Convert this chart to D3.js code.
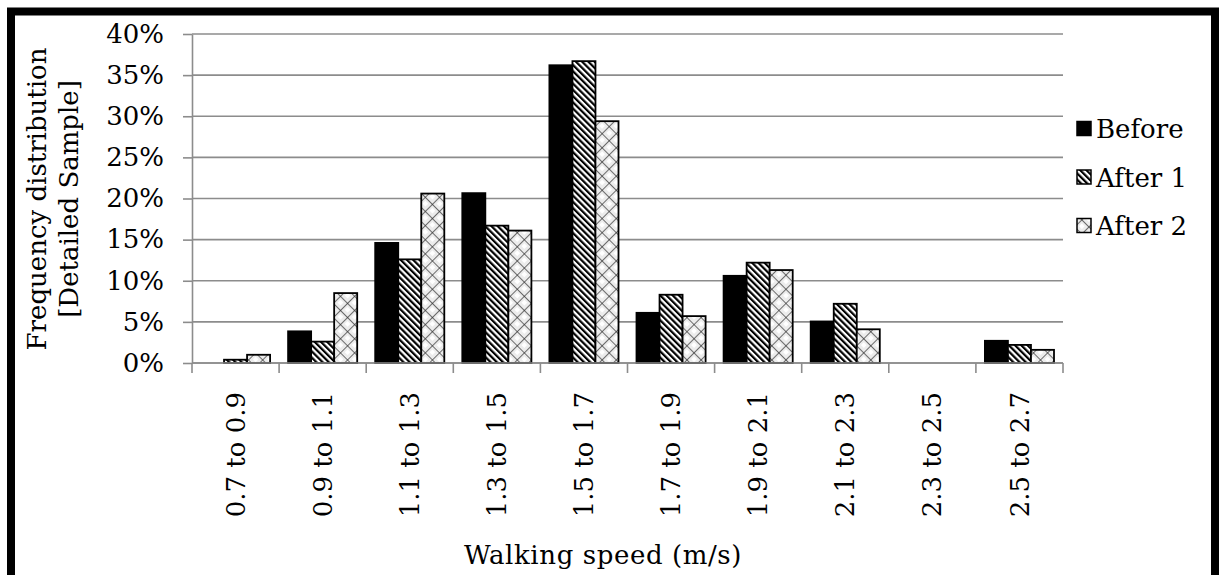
<!DOCTYPE html>
<html>
<head>
<meta charset="utf-8">
<script src="https://cdn.jsdelivr.net/npm/d3@7"></script>
<style>
  body { margin: 0; background: #fff; }
  text { font-family: "DejaVu Serif", serif; fill: #000; }
</style>
</head>
<body>
<div id="vis"></div>
<script>
// data (percent)
var categories = ["0.7 to 0.9", "0.9 to 1.1", "1.1 to 1.3", "1.3 to 1.5", "1.5 to 1.7",
                  "1.7 to 1.9", "1.9 to 2.1", "2.1 to 2.3", "2.3 to 2.5", "2.5 to 2.7"];
var seriesNames = ["Before", "After 1", "After 2"];
var before = [0, 3.85, 14.6, 20.65, 36.2, 6.1, 10.6, 5.05, 0, 2.7];
var after1 = [0.4, 2.6, 12.6, 16.7, 36.7, 8.3, 12.2, 7.2, 0, 2.2];
var after2 = [1.0, 8.5, 20.6, 16.1, 29.4, 5.7, 11.3, 4.1, 0, 1.6];
var yTicks = [0, 5, 10, 15, 20, 25, 30, 35, 40];

var seriesValues = [before, after1, after2];
var fills = ["#000", "url(#hatch)", "url(#cross)"];

var width = 1222, height = 575;
var margin = {top: 34, right: 159, bottom: 212, left: 192};
var w = width - margin.left - margin.right;
var h = height - margin.top - margin.bottom;

var svg = d3.select("#vis").append("svg")
    .attr("width", width)
    .attr("height", height);

// patterns
var defs = svg.append("defs");
var hatch = defs.append("pattern")
    .attr("id", "hatch")
    .attr("patternUnits", "userSpaceOnUse")
    .attr("width", 4.4).attr("height", 10)
    .attr("patternTransform", "rotate(-45)");
hatch.append("rect").attr("width", 4.4).attr("height", 10).attr("fill", "#fff");
hatch.append("rect").attr("width", 2.2).attr("height", 10).attr("fill", "#000");

var cross = defs.append("pattern")
    .attr("id", "cross")
    .attr("patternUnits", "userSpaceOnUse")
    .attr("width", 10).attr("height", 10)
    .attr("patternTransform", "rotate(45)");
cross.append("rect").attr("width", 10).attr("height", 10).attr("fill", "#ececec");
cross.append("rect").attr("x", 3).attr("y", 3).attr("width", 4).attr("height", 4).attr("fill", "#fff");
cross.append("line").attr("x1", 0).attr("y1", 0).attr("x2", 10).attr("y2", 0)
    .attr("stroke", "#333").attr("stroke-width", 1.4);
cross.append("line").attr("x1", 0).attr("y1", 0).attr("x2", 0).attr("y2", 10)
    .attr("stroke", "#333").attr("stroke-width", 1.4);

// outer frame
svg.append("rect")
    .attr("x", 11).attr("y", 11.5)
    .attr("width", 1204).attr("height", 580)
    .attr("fill", "none")
    .attr("stroke", "#000")
    .attr("stroke-width", 8);

var g = svg.append("g")
    .attr("transform", "translate(" + margin.left + "," + margin.top + ")");

var x = d3.scaleBand().domain(categories).range([0, w]);
var xs = d3.scaleBand().domain(seriesNames).range([9, x.bandwidth() - 9]);
var y = d3.scaleLinear().domain([0, 40]).range([h, 0]);

// gridlines
g.append("g").selectAll("line")
  .data(yTicks)
  .enter().append("line")
    .attr("x1", 0).attr("x2", w)
    .attr("y1", function(d) { return y(d); })
    .attr("y2", function(d) { return y(d); })
    .attr("stroke", "#8c8c8c")
    .attr("stroke-width", 1.6);

// y axis
var yAxis = g.append("g")
    .call(d3.axisLeft(y).tickValues(yTicks).tickSize(9).tickSizeOuter(0).tickPadding(19)
      .tickFormat(function(d) { return d + "%"; }));
yAxis.select(".domain").attr("stroke", "#8c8c8c").attr("stroke-width", 1.6);
yAxis.selectAll(".tick line").attr("stroke", "#8c8c8c").attr("stroke-width", 1.6);
yAxis.selectAll(".tick text").style("font-family", "DejaVu Serif").style("font-size", "26px");

// bars
seriesValues.forEach(function(vals, i) {
  g.append("g").selectAll("rect")
    .data(vals)
    .enter().append("rect")
      .attr("x", function(d, j) { return x(categories[j]) + xs(seriesNames[i]); })
      .attr("width", xs.bandwidth())
      .attr("y", function(d) { return y(d); })
      .attr("height", function(d) { return h - y(d); })
      .attr("fill", fills[i])
      .attr("stroke", "#000")
      .attr("stroke-width", 1.8)
      .style("display", function(d) { return d > 0 ? null : "none"; });
});

// x axis (ticks between categories)
g.append("line")
    .attr("x1", 0).attr("x2", w).attr("y1", h).attr("y2", h)
    .attr("stroke", "#8c8c8c").attr("stroke-width", 1.6);
var edges = categories.map(function(c) { return x(c); }).concat([w]);
g.append("g").selectAll("line")
  .data(edges)
  .enter().append("line")
    .attr("x1", function(d) { return d; }).attr("x2", function(d) { return d; })
    .attr("y1", h).attr("y2", h + 10)
    .attr("stroke", "#8c8c8c").attr("stroke-width", 1.6);

g.append("g").selectAll("text")
  .data(categories)
  .enter().append("text")
    .attr("transform", function(d) {
      return "translate(" + (x(d) + x.bandwidth() / 2) + "," + (h + 29) + ") rotate(-90)";
    })
    .attr("text-anchor", "end")
    .attr("dy", "0.35em")
    .style("font-size", "26px")
    .text(function(d) { return d; });

// axis titles
var yTitle = svg.append("text")
    .attr("transform", "translate(0,199) rotate(-90)")
    .attr("text-anchor", "middle")
    .style("font-size", "26px");
yTitle.append("tspan").attr("x", 0).attr("y", 46).text("Frequency distribution");
yTitle.append("tspan").attr("x", 0).attr("y", 78).text("[Detailed Sample]");

svg.append("text")
    .attr("x", 603).attr("y", 564)
    .attr("text-anchor", "middle")
    .style("font-size", "26px")
    .style("letter-spacing", "0.6px")
    .text("Walking speed (m/s)");

// legend
var legend = svg.append("g");
seriesNames.forEach(function(name, i) {
  var cy = 129 + i * 48.5;
  legend.append("rect")
      .attr("x", 1077).attr("y", cy - 7.5)
      .attr("width", 14).attr("height", 14)
      .attr("fill", fills[i])
      .attr("stroke", "#000").attr("stroke-width", 1.5);
  legend.append("text")
      .attr("x", 1096).attr("y", cy)
      .attr("dy", "0.35em")
      .style("font-size", "26px")
      .text(name);
});
</script>
</body>
</html>
